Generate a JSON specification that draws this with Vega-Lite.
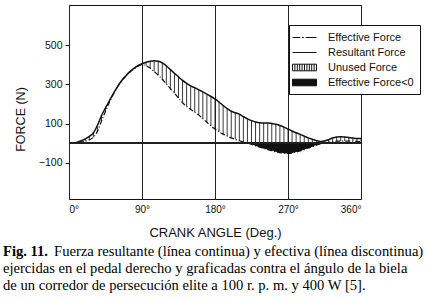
{
  "$schema": "https://vega.github.io/schema/vega-lite/v6.json",
  "autosize": {"type": "none"},
  "width": 292,
  "height": 194,
  "padding": {"left": 69, "top": 5, "right": 76, "bottom": 101},
  "background": "white",
  "config": {
    "view": {"stroke": "#111", "strokeWidth": 1},
    "axis": {"labelFont": "Liberation Sans", "titleFont": "Liberation Sans", "labelColor": "#111", "titleColor": "#111", "titleFontWeight": "normal"}
  },
  "title": {
    "text": "Fig. 11.",
    "subtitle": [
      "\u200b\u2002\u2002\u2002\u2002\u2002\u2002\u2002Fuerza resultante (línea continua) y efectiva (línea discontinua)",
      "ejercidas en el pedal derecho y graficadas contra el ángulo de la biela",
      "de un corredor de persecución elite a 100 r. p. m. y 400 W [5]."
    ],
    "orient": "bottom",
    "anchor": "start",
    "frame": "group",
    "dx": -66,
    "offset": 5,
    "font": "Liberation Serif",
    "fontSize": 14.6,
    "fontWeight": "bold",
    "color": "#000",
    "lineHeight": 17,
    "subtitleFont": "Liberation Serif",
    "subtitleFontSize": 14.6,
    "subtitleFontWeight": "normal",
    "subtitleColor": "#000",
    "subtitlePadding": -15,
    "subtitleLineHeight": 17
  },
  "datasets": {
    "force": [
      {"angle": 0, "resultant": 0, "effective": 0},
      {"angle": 5, "resultant": 1, "effective": 0},
      {"angle": 10, "resultant": 5, "effective": 2},
      {"angle": 15, "resultant": 12, "effective": 5},
      {"angle": 20, "resultant": 22, "effective": 10},
      {"angle": 25, "resultant": 35, "effective": 17},
      {"angle": 30, "resultant": 52, "effective": 30},
      {"angle": 35, "resultant": 90, "effective": 60},
      {"angle": 40, "resultant": 140, "effective": 112},
      {"angle": 45, "resultant": 180, "effective": 163},
      {"angle": 50, "resultant": 218, "effective": 210},
      {"angle": 55, "resultant": 255, "effective": 252},
      {"angle": 60, "resultant": 290, "effective": 288},
      {"angle": 65, "resultant": 320, "effective": 318},
      {"angle": 70, "resultant": 343, "effective": 341},
      {"angle": 75, "resultant": 365, "effective": 362},
      {"angle": 80, "resultant": 382, "effective": 379},
      {"angle": 85, "resultant": 395, "effective": 392},
      {"angle": 90, "resultant": 405, "effective": 400},
      {"angle": 95, "resultant": 413, "effective": 395},
      {"angle": 100, "resultant": 418, "effective": 383},
      {"angle": 105, "resultant": 420, "effective": 365},
      {"angle": 110, "resultant": 418, "effective": 347},
      {"angle": 115, "resultant": 410, "effective": 326},
      {"angle": 120, "resultant": 395, "effective": 302},
      {"angle": 125, "resultant": 375, "effective": 278},
      {"angle": 130, "resultant": 357, "effective": 255},
      {"angle": 135, "resultant": 338, "effective": 230},
      {"angle": 140, "resultant": 320, "effective": 206},
      {"angle": 145, "resultant": 305, "effective": 187},
      {"angle": 150, "resultant": 292, "effective": 172},
      {"angle": 155, "resultant": 283, "effective": 158},
      {"angle": 160, "resultant": 272, "effective": 143},
      {"angle": 165, "resultant": 262, "effective": 125},
      {"angle": 170, "resultant": 250, "effective": 107},
      {"angle": 175, "resultant": 238, "effective": 88},
      {"angle": 180, "resultant": 226, "effective": 72},
      {"angle": 185, "resultant": 210, "effective": 58},
      {"angle": 190, "resultant": 192, "effective": 46},
      {"angle": 195, "resultant": 176, "effective": 36},
      {"angle": 200, "resultant": 163, "effective": 27},
      {"angle": 205, "resultant": 155, "effective": 19},
      {"angle": 210, "resultant": 148, "effective": 12},
      {"angle": 215, "resultant": 135, "effective": 6},
      {"angle": 220, "resultant": 124, "effective": 0},
      {"angle": 225, "resultant": 115, "effective": -6},
      {"angle": 230, "resultant": 108, "effective": -14},
      {"angle": 235, "resultant": 104, "effective": -20},
      {"angle": 240, "resultant": 103, "effective": -27},
      {"angle": 245, "resultant": 103, "effective": -33},
      {"angle": 250, "resultant": 100, "effective": -38},
      {"angle": 255, "resultant": 96, "effective": -44},
      {"angle": 260, "resultant": 90, "effective": -48},
      {"angle": 265, "resultant": 82, "effective": -51},
      {"angle": 270, "resultant": 72, "effective": -53},
      {"angle": 275, "resultant": 62, "effective": -50},
      {"angle": 280, "resultant": 53, "effective": -45},
      {"angle": 285, "resultant": 45, "effective": -40},
      {"angle": 290, "resultant": 36, "effective": -33},
      {"angle": 295, "resultant": 27, "effective": -25},
      {"angle": 300, "resultant": 20, "effective": -18},
      {"angle": 305, "resultant": 13, "effective": -10},
      {"angle": 310, "resultant": 9, "effective": -4},
      {"angle": 315, "resultant": 11, "effective": 0},
      {"angle": 320, "resultant": 18, "effective": 4},
      {"angle": 325, "resultant": 26, "effective": 8},
      {"angle": 330, "resultant": 31, "effective": 10},
      {"angle": 335, "resultant": 33, "effective": 10},
      {"angle": 340, "resultant": 32, "effective": 10},
      {"angle": 345, "resultant": 29, "effective": 10},
      {"angle": 350, "resultant": 26, "effective": 10},
      {"angle": 355, "resultant": 24, "effective": 9},
      {"angle": 360, "resultant": 24, "effective": 8}
    ],
    "legendItems": [
      {"series": "Effective Force"},
      {"series": "Resultant Force"},
      {"series": "Unused Force"},
      {"series": "Effective Force<0"}
    ]
  },
  "data": {"name": "force"},
  "encoding": {
    "x": {
      "field": "angle",
      "type": "quantitative",
      "scale": {"domain": [0, 360], "nice": false, "zero": false},
      "axis": {
        "values": [0, 90, 180, 270, 360],
        "labelExpr": "datum.label + '°'",
        "labelFontSize": 10,
        "labelPadding": 5,
        "ticks": false,
        "domain": false,
        "grid": true,
        "gridColor": "#222",
        "gridOpacity": 1,
        "gridWidth": 1,
        "title": "CRANK ANGLE (Deg.)",
        "titleFontSize": 13,
        "titleY": 27,
        "titleBaseline": "top"
      }
    }
  },
  "layer": [
    {
      "mark": {"type": "rule", "color": "#222", "strokeWidth": 0.9},
      "encoding": {
        "y": {
          "field": "effective",
          "type": "quantitative",
          "scale": {"domain": [-285, 705], "nice": false, "zero": false},
          "axis": {
            "values": [-100, 0, 100, 200, 300, 400, 500],
            "labelFontSize": 10.5,
            "labelPadding": 3,
            "tickSize": 4,
            "tickColor": "#111",
            "domain": false,
            "grid": false,
            "title": "FORCE (N)",
            "titleFontSize": 12.5,
            "titleX": -49,
            "titleY": 114,
            "titleAngle": -90,
            "titleAlign": "center",
            "titleBaseline": "middle"
          }
        },
        "y2": {"field": "resultant"}
      }
    },
    {
      "transform": [{"filter": "datum.effective <= 0"}],
      "mark": {"type": "area", "color": "#111", "interpolate": "monotone"},
      "encoding": {
        "y": {"field": "effective", "type": "quantitative"},
        "y2": {"datum": 0}
      }
    },
    {
      "mark": {"type": "line", "color": "#111", "strokeWidth": 1.5, "interpolate": "monotone"},
      "encoding": {"y": {"field": "resultant", "type": "quantitative"}}
    },
    {
      "mark": {"type": "line", "color": "#111", "strokeWidth": 1.2, "strokeDash": [5, 2, 1, 2], "interpolate": "monotone"},
      "encoding": {"y": {"field": "effective", "type": "quantitative"}}
    },
    {
      "mark": {"type": "rule", "color": "#222", "strokeWidth": 1},
      "encoding": {"y": {"datum": 0}, "x": {"value": 0}, "x2": {"value": 292}}
    },
    {
      "data": {"name": "legendItems"},
      "mark": {"type": "point", "size": 144, "strokeWidth": 1, "opacity": 1},
      "encoding": {
        "y": {"field": "effective", "type": "quantitative"},
        "shape": {
          "field": "series",
          "type": "nominal",
          "scale": {
            "domain": ["Effective Force", "Resultant Force", "Unused Force", "Effective Force<0"],
            "range": [
              "M-1.5,0H-0.2M0.1,0H0.4M0.7,0H2.5",
              "M-1.5,0H2.5",
              "M-1.5,-0.55H2.5V0.55H-1.5Z M-1.1,-0.55V0.55 M-0.7,-0.55V0.55 M-0.3,-0.55V0.55 M0.1,-0.55V0.55 M0.5,-0.55V0.55 M0.9,-0.55V0.55 M1.3,-0.55V0.55 M1.7,-0.55V0.55 M2.1,-0.55V0.55",
              "M-1.5,-0.55H2.5V0.55H-1.5Z"
            ]
          },
          "legend": {
            "title": null,
            "orient": "none",
            "legendX": 220,
            "legendY": 20,
            "padding": 6,
            "fillColor": "white",
            "strokeColor": "#111",
            "symbolSize": 144,
            "symbolStrokeWidth": 1,
            "labelFont": "Liberation Sans",
            "labelFontSize": 11,
            "labelColor": "#111",
            "labelOffset": 20,
            "rowPadding": 3
          }
        },
        "fill": {
          "field": "series",
          "type": "nominal",
          "scale": {
            "domain": ["Effective Force", "Resultant Force", "Unused Force", "Effective Force<0"],
            "range": ["transparent", "transparent", "white", "#111"]
          },
          "legend": {
            "title": null,
            "orient": "none",
            "legendX": 220,
            "legendY": 20,
            "padding": 6,
            "fillColor": "white",
            "strokeColor": "#111",
            "symbolSize": 144,
            "symbolStrokeWidth": 1,
            "labelFont": "Liberation Sans",
            "labelFontSize": 11,
            "labelColor": "#111",
            "labelOffset": 20,
            "rowPadding": 3
          }
        },
        "stroke": {
          "field": "series",
          "type": "nominal",
          "scale": {
            "domain": ["Effective Force", "Resultant Force", "Unused Force", "Effective Force<0"],
            "range": ["#111", "#111", "#111", "#111"]
          },
          "legend": {
            "title": null,
            "orient": "none",
            "legendX": 220,
            "legendY": 20,
            "padding": 6,
            "fillColor": "white",
            "strokeColor": "#111",
            "symbolSize": 144,
            "symbolStrokeWidth": 1,
            "labelFont": "Liberation Sans",
            "labelFontSize": 11,
            "labelColor": "#111",
            "labelOffset": 20,
            "rowPadding": 3
          }
        }
      }
    }
  ]
}
